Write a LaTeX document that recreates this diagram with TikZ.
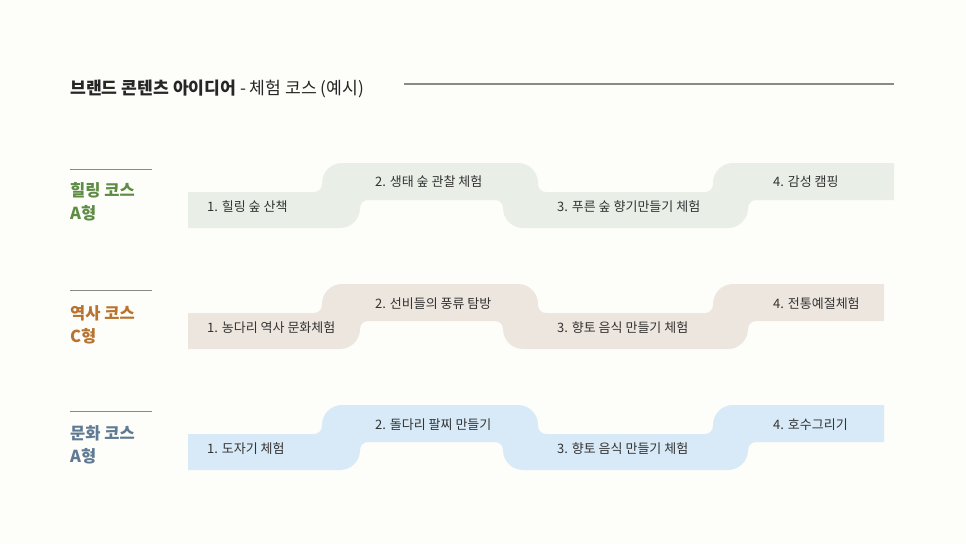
\documentclass[tikz,border=0pt]{standalone}
\usepackage{fontspec}
\setmainfont{Noto Sans CJK KR}
\usetikzlibrary{positioning}
\definecolor{PageBg}{HTML}{FDFDFA}
\definecolor{RuleGray}{HTML}{8A8A86}
\definecolor{TitleInk}{HTML}{262626}
\definecolor{StepInk}{HTML}{333333}
\definecolor{HealInk}{HTML}{5E8C45}
\definecolor{HealFill}{HTML}{E9EFE7}
\definecolor{HistInk}{HTML}{B8742F}
\definecolor{HistFill}{HTML}{EDE6DF}
\definecolor{CultInk}{HTML}{5F7A92}
\definecolor{CultFill}{HTML}{D8EAF7}
% stepped band of one course: top y, right end, fill colour
\newcommand{\courseband}[3]{%
  \fill[#3] (188,#1+29) [rounded corners=8pt] -- (322,#1+29)
    [rounded corners=20pt] -- (322,#1) -- (538,#1)
    [rounded corners=8pt] -- (538,#1+29) -- (713,#1+29)
    [rounded corners=20pt] -- (713,#1)
    [sharp corners] -- (#2,#1) -- (#2,#1+37)
    [rounded corners=8pt] -- (748,#1+37)
    [rounded corners=20pt] -- (748,#1+65) -- (503,#1+65)
    [rounded corners=8pt] -- (503,#1+37) -- (360,#1+37)
    [rounded corners=20pt] -- (360,#1+65)
    [sharp corners] -- (188,#1+65) -- cycle;
  \fill[#3] (188,#1+29) rectangle (230,#1+65);
  \fill[#3] (#2-40,#1) rectangle (#2,#1+37);
}
\begin{document}
\begin{tikzpicture}[x=1pt,y=-1pt]
  \tikzset{stp/.style={anchor=west,inner sep=0pt,text=StepInk,
      font=\fontsize{13}{15}\selectfont},
    lbl/.style={anchor=west,inner sep=0pt,align=left,
      font=\fontsize{16.5}{23.5}\selectfont\bfseries},
    rule/.style={draw=RuleGray,line width=1.4pt}}
  \fill[PageBg] (0,0) rectangle (966,544);
  \useasboundingbox (0,0) rectangle (966,544);

  % title
  \node[anchor=west,inner sep=0pt,text=TitleInk,font=\fontsize{17.2}{19}\selectfont]
    (title) at (70,89) {{\bfseries 브랜드 콘텐츠 아이디어} - 체험 코스 (예시)};
  \coordinate (tl) at (404,84);
  \coordinate (tr) at (894,84);
  \draw[rule] (tl) -- (tr);

  % healing course
  \courseband{163}{894}{HealFill}
  \coordinate (ha) at (70,169.5);
  \coordinate (hb) at (152,169.5);
  \draw[rule] (ha) -- (hb);
  \node[lbl,text=HealInk] (heal) at (70,202) {힐링 코스\\A형};
  \node[stp] (h1) at (207,207) {1. 힐링 숲 산책};
  \node[stp] (h2) at (375,182) {2. 생태 숲 관찰 체험};
  \node[stp] (h3) at (557,207) {3. 푸른 숲 향기만들기 체험};
  \node[stp] (h4) at (773,182) {4. 감성 캠핑};

  % history course
  \courseband{284}{884}{HistFill}
  \coordinate (sa) at (70,290.5);
  \coordinate (sb) at (152,290.5);
  \draw[rule] (sa) -- (sb);
  \node[lbl,text=HistInk] (hist) at (70,325) {역사 코스\\C형};
  \node[stp] (s1) at (207,328) {1. 농다리 역사 문화체험};
  \node[stp] (s2) at (375,304) {2. 선비들의 풍류 탐방};
  \node[stp] (s3) at (557,328) {3. 향토 음식 만들기 체험};
  \node[stp] (s4) at (773,304) {4. 전통예절체험};

  % culture course
  \courseband{405}{884}{CultFill}
  \coordinate (ca) at (70,411.5);
  \coordinate (cb) at (152,411.5);
  \draw[rule] (ca) -- (cb);
  \node[lbl,text=CultInk] (cult) at (70,445) {문화 코스\\A형};
  \node[stp] (c1) at (207,449) {1. 도자기 체험};
  \node[stp] (c2) at (375,425) {2. 돌다리 팔찌 만들기};
  \node[stp] (c3) at (557,449) {3. 향토 음식 만들기 체험};
  \node[stp] (c4) at (773,425) {4. 호수그리기};
\end{tikzpicture}
\end{document}
